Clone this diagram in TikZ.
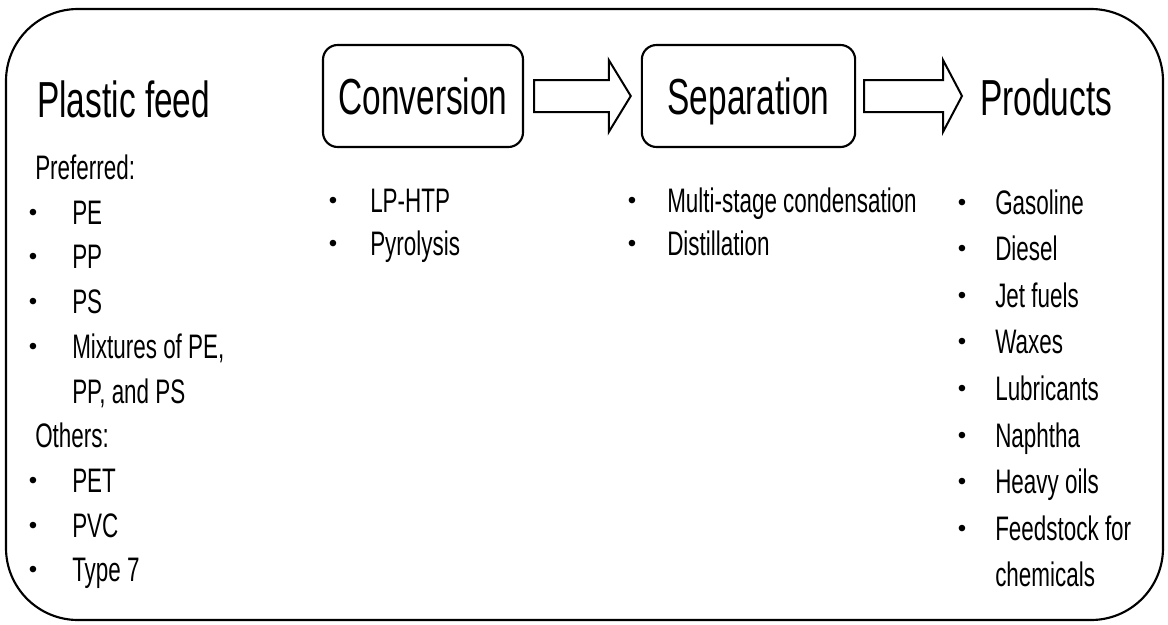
\documentclass[tikz,border=0pt]{standalone}
\usepackage{fontspec}
\setmainfont[FakeStretch=0.66]{Liberation Sans}
\newfontfamily\bulfont{Liberation Sans}
\usetikzlibrary{calc}
\begin{document}
\begin{tikzpicture}[x=0.75pt,y=-0.75pt,
  body/.style={font=\fontsize{25.5}{30}\selectfont, anchor=base west, inner sep=0pt},
  ttl/.style={font=\fontsize{38}{44}\selectfont, inner sep=0pt},
  bul/.style={font=\bulfont\fontsize{18}{20}\selectfont, inner sep=0pt, anchor=base},
  stage/.style={draw, line width=1.6pt, rounded corners=11pt, minimum height=76.5pt,
    inner sep=0pt, text height=27.5pt, text depth=0pt, font=\fontsize{38}{44}\selectfont},
  blockarrow/.style={draw, line width=1.5pt, line join=miter}]
\useasboundingbox (0,0) rectangle (1168,625);
\draw[line width=1.6pt, rounded corners=54pt] (6,9) rectangle (1163,620);

% titles and stages
\node[ttl, anchor=base west] (feed) at (37,117) {Plastic feed};
\node[stage, minimum width=150pt] (conv) at (423,96) {Conversion};
\node[stage, minimum width=160pt] (sep) at (748.5,96) {Separation};
\node[ttl, anchor=base west] (prod) at (980,115) {Products};
\coordinate (pin) at (sep.east -| prod.west);

% block arrows
\draw[blockarrow] ($(conv.east)+(10,-16)$) -- ($(sep.west)+(-32,-16)$)
  -- ($(sep.west)+(-32,-36)$) -- ($(sep.west)+(-10,0)$) -- ($(sep.west)+(-32,36)$)
  -- ($(sep.west)+(-32,16)$) -- ($(conv.east)+(10,16)$) -- cycle;
\draw[blockarrow] ($(sep.east)+(8,-16)$) -- ($(pin)+(-37,-16)$)
  -- ($(pin)+(-37,-36)$) -- ($(pin)+(-18,0)$) -- ($(pin)+(-37,36)$)
  -- ($(pin)+(-37,16)$) -- ($(sep.east)+(8,16)$) -- cycle;

% plastic feed column
\node[body] (pref) at (35,179) {Preferred:};
\foreach \t/\y [count=\i] in {PE/224, PP/268, PS/313, {Mixtures of PE,}/358} {
  \node[bul] (fb\i) at (33,\y-4) {•};
  \node[body] (ft\i) at (72,\y) {\t};
}
\node[body] (ft5) at (72,403) {PP, and PS};
\node[body] (oth) at (35,447) {Others:};
\foreach \t/\y [count=\i] in {PET/492, PVC/537, Type 7/581} {
  \node[bul] (ob\i) at (33,\y-4) {•};
  \node[body] (ot\i) at (72,\y) {\t};
}

% conversion column
\foreach \t/\y [count=\i] in {LP-HTP/212, Pyrolysis/255} {
  \node[bul] (cb\i) at (333,\y-4) {•};
  \node[body] (ct\i) at (370,\y) {\t};
}

% separation column
\foreach \t/\y [count=\i] in {Multi-stage condensation/212, Distillation/255} {
  \node[bul] (sb\i) at (632,\y-4) {•};
  \node[body] (st\i) at (667,\y) {\t};
}

% products column
\foreach \t/\y [count=\i] in {Gasoline/214, Diesel/260, Jet fuels/307, Waxes/353,
  Lubricants/400, Naphtha/447, Heavy oils/493, Feedstock for/540} {
  \node[bul] (pb\i) at (962,\y-4) {•};
  \node[body] (pt\i) at (995,\y) {\t};
}
\node[body] (pt9) at (995,586) {chemicals};
\end{tikzpicture}
\end{document}
